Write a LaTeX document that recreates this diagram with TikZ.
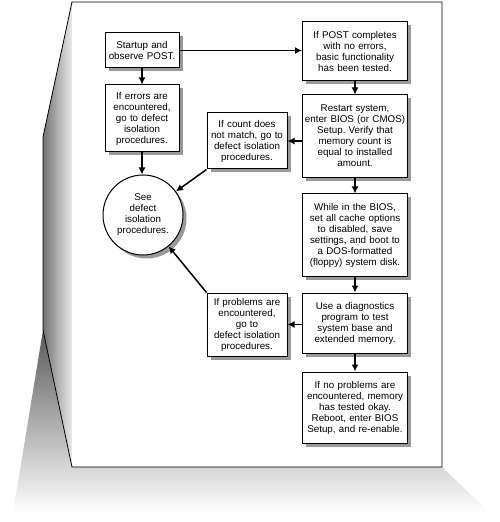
\documentclass[tikz,border=0pt]{standalone}
\usepackage{fontspec}
\setmainfont{Liberation Sans}
\usetikzlibrary{arrows.meta}
\frenchspacing
\tikzset{
  boxshadow/.style={preaction={draw=none, fill=black!40, transform canvas={xshift=3.5bp, yshift=-3.5bp}}},
  stepbox/.style={boxshadow, draw, fill=white, line width=1bp, align=center, inner sep=2bp},
  mainbox/.style={stepbox, text width=101bp},
  sidebox/.style={stepbox, text width=76bp},
  flow/.style={->, line width=1.5bp}
}
\begin{document}
\begin{tikzpicture}[x=1bp, y=-1bp, >={Latex[length=7bp,width=7bp]}, font=\fontsize{9.8bp}{11bp}\selectfont]
\useasboundingbox (0,0) rectangle (500,522);
% the page and its shadows
\shade[top color=black!65, bottom color=white] (43,330)--(13,513)--(490,513)--(442,467)--(72,467)--cycle;
\shade[left color=black!55, right color=black!8] (72,2)--(43,137)--(43,330)--(72,467)--cycle;
\fill[white] (72,2) rectangle (442,467);
\draw[line width=.8bp] (72,2)--(442,2)--(442,467)--(72,467)--(43,330)--(43,137)--cycle;

% left column
\node[stepbox, text width=70bp, minimum height=35bp] (start) at (142,50.5) {Startup and\\observe POST.};
\node[stepbox, text width=70bp, minimum height=67bp] (errors) at (142,118.5) {If errors are\\encountered,\\go to defect\\isolation\\procedures.};
\node[stepbox, circle, minimum size=80bp, inner sep=0pt] (see) at (143,215) {See\\defect\\isolation\\procedures.};

% middle column
\node[sidebox, minimum height=56bp] (count) at (247,141) {If count does\\not match, go to\\defect isolation\\procedures.};
\node[sidebox, minimum height=63bp] (problems) at (247,324.5) {If problems are\\encountered,\\go to\\defect isolation\\procedures.};

% right column
\node[mainbox, minimum height=59bp] (post) at (355,51.5) {If POST completes\\with no errors,\\basic functionality\\has been tested.};
\node[mainbox, minimum height=82bp] (restart) at (355,136) {Restart system,\\enter BIOS (or CMOS)\\Setup. Verify that\\memory count is\\equal to installed\\amount.};
\node[mainbox, minimum height=82bp] (bios) at (355,235) {While in the BIOS,\\set all cache options\\to disabled, save\\settings, and boot to\\a DOS-formatted\\(floppy) system disk.};
\node[mainbox, minimum height=60bp] (diag) at (355,323) {Use a diagnostics\\program to test\\system base and\\extended memory.};
\node[mainbox, minimum height=71bp] (done) at (355,407.5) {If no problems are\\encountered, memory\\has tested okay.\\Reboot, enter BIOS\\Setup, and re-enable.};

% connectors
\draw[flow] (start.east) -- (start.east -| post.west);
\draw[flow] (start) -- (errors);
\draw[flow] (errors) -- (errors |- see.north);
\draw[flow] (post) -- (restart);
\draw[flow] (restart) -- (bios);
\draw[flow] (bios) -- (diag);
\draw[flow] (diag) -- (done);
\draw[flow] (count.east -| restart.west) -- (count.east);
\draw[flow] (problems.east -| diag.west) -- (problems.east);
\draw[flow] (count.south west) -- (see);
\draw[flow] (problems.north west) -- (see);
\end{tikzpicture}
\end{document}
